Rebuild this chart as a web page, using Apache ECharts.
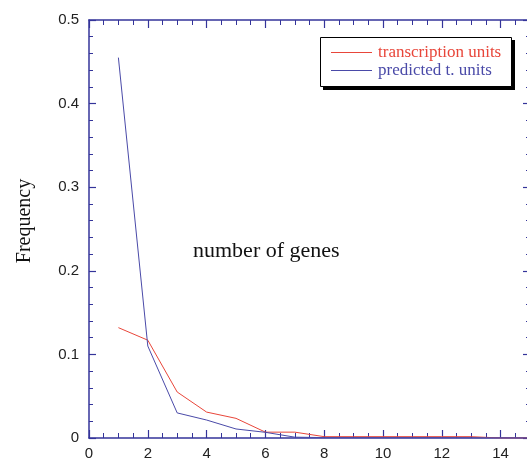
<!DOCTYPE html>
<html>
<head>
<meta charset="utf-8">
<script src="https://cdn.jsdelivr.net/npm/echarts@6/dist/echarts.min.js"></script>
<style>html,body{margin:0;padding:0;background:#fff}#c{width:527px;height:461px}</style>
</head>
<body>
<div id="c"></div>
<script>
var genes = [1, 2, 3, 4, 5, 6, 7, 8, 9, 10, 11, 12, 13, 14, 15];
var transcriptionUnits = [0.132, 0.117, 0.055, 0.031, 0.0235, 0.007, 0.007, 0.0016, 0.0016, 0.0016, 0.0016, 0.0016, 0.0016, 0.0, 0.0];
var predictedUnits = [0.455, 0.110, 0.030, 0.0215, 0.0108, 0.0068, 0.001, 0.0005, 0.0005, 0.0005, 0.0005, 0.0005, 0.0003, 0.0002, 0.0];
var seriesNames = ['transcription units', 'predicted t. units'];
var xTitle = 'number of genes';
var yTitle = 'Frequency';

var axisColor = '#34349a';
var red = '#e8463a', blue = '#4a4aa8';
function pairs(xs, ys){ return xs.map(function(x,i){ return [x, ys[i]]; }); }

var chart = echarts.init(document.getElementById('c'), null, {renderer:'canvas'});
var baseX = {
  type:'value', min:0, max:15, interval:2,
  axisLine:{show:true, onZero:false, lineStyle:{color:axisColor, width:1.5}},
  axisTick:{show:true, inside:true, length:8, lineStyle:{color:axisColor, width:1.2}},
  minorTick:{show:true, splitNumber:4, length:5, lineStyle:{color:axisColor, width:1}},
  splitLine:{show:false}
};
var baseY = {
  type:'value', min:0, max:0.5, interval:0.1,
  axisLine:{show:true, onZero:false, lineStyle:{color:axisColor, width:1.5}},
  axisTick:{show:true, inside:true, length:7, lineStyle:{color:axisColor, width:1.2}},
  minorTick:{show:true, splitNumber:5, length:4, lineStyle:{color:axisColor, width:1}},
  splitLine:{show:false}
};
chart.setOption({
  animation:false,
  grid:{left:89, top:20, width:441, bottom:23, containLabel:false, outerBoundsMode:'none'},
  xAxis:[
    Object.assign({}, baseX, {position:'bottom', axisLabel:{color:'#222', fontFamily:'Liberation Sans', fontSize:15, margin:8, showMaxLabel:false}}),
    Object.assign({}, baseX, {position:'top', axisLabel:{show:false}})
  ],
  yAxis:[
    Object.assign({}, baseY, {position:'left', axisLabel:{color:'#222', fontFamily:'Liberation Sans', fontSize:15, margin:10,
      formatter:function(v){ return v===0?'0':String(Math.round(v*10)/10); }}}),
    Object.assign({}, baseY, {position:'right', axisLabel:{show:false}})
  ],
  legend:{
    orient:'vertical', left:331, top:44,
    padding:0, itemGap:1,
    icon:'rect', itemWidth:41, itemHeight:1.2,
    textStyle:{fontFamily:'Liberation Serif', fontSize:17, padding:[0,0,0,1]},
    data:[
      {name:seriesNames[0], textStyle:{color:red}},
      {name:seriesNames[1], textStyle:{color:blue}}
    ]
  },
  graphic:[
    {type:'rect', shape:{x:323, y:40, width:192, height:50}, style:{fill:'#000'}, z:1},
    {type:'rect', shape:{x:320.5, y:37.5, width:191, height:49}, style:{fill:'#fff', stroke:'#000', lineWidth:1}, z:2},
    {type:'text', left:193, top:240, style:{text:xTitle, fontFamily:'Liberation Serif', fontSize:22, fill:'#111'}},
    {type:'text', x:25, y:221, rotation:Math.PI/2, style:{text:yTitle, fontFamily:'Liberation Serif', fontSize:20, fill:'#111', align:'center', verticalAlign:'middle'}}
  ],
  series:[
    {name:seriesNames[0], type:'line', data:pairs(genes, transcriptionUnits), symbol:'none', lineStyle:{color:red, width:1}, itemStyle:{color:red}},
    {name:seriesNames[1], type:'line', data:pairs(genes, predictedUnits), symbol:'none', lineStyle:{color:blue, width:1}, itemStyle:{color:blue}}
  ]
});
</script>
</body>
</html>
